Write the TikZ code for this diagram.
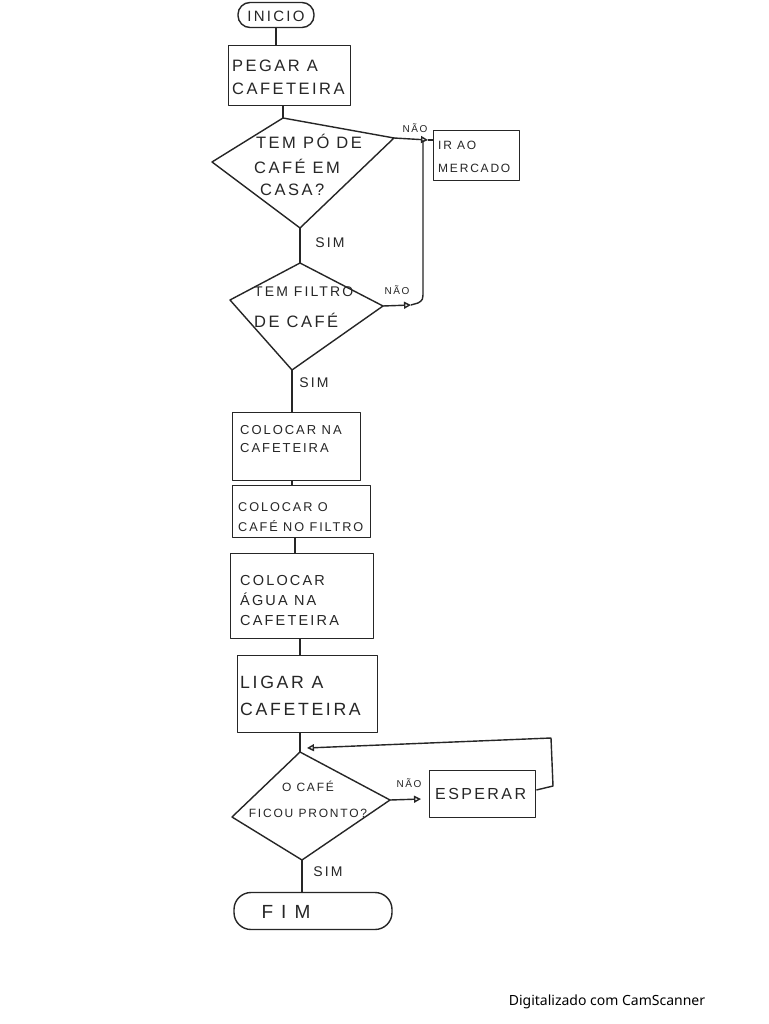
\documentclass[tikz,border=0pt]{standalone}
\usepackage{fontspec}
\setmainfont[LetterSpace=15]{Liberation Sans}
\newfontfamily\camfont{Noto Sans}
\usetikzlibrary{arrows.meta}
\begin{document}
\begin{tikzpicture}[x=1pt,y=-1pt,
  ink/.style={line width=1.4pt,draw=black!85,line join=round},
  procbox/.style={ink,rectangle,anchor=north west,inner sep=0pt},
  term/.style={ink,rectangle,inner sep=0pt},
  txt/.style={font=#1,align=left,anchor=west,inner sep=0pt,text=black!85},
  ctxt/.style={font=#1,align=center,inner sep=0pt,text=black!85},
  lbl/.style={font=\fontsize{#1}{#1}\selectfont,inner sep=0pt,text=black!85},
  conn/.style={ink},
  arr/.style={ink,-{Triangle[open,length=7pt,width=7pt]}}
]
\useasboundingbox (0,0) rectangle (768,1024);
\fill[white] (0,0) rectangle (768,1024);

% INICIO
\node[term,rounded corners=12pt,minimum width=76pt,minimum height=25pt] (ini) at (276,15) {};
\node[ctxt=\fontsize{15}{15}\selectfont] (tini) at (276,16) {INICIO};

% PEGAR A CAFETEIRA
\node[procbox,minimum width=122pt,minimum height=60pt] (pegar) at (228,45) {};
\node[txt=\fontsize{16.5}{23}\selectfont] (tpegar) at (232,77) {PEGAR A\\CAFETEIRA};

% Diamond 1
\coordinate (d1t) at (283,118);
\coordinate (d1r) at (394,138);
\coordinate (d1b) at (300,228);
\coordinate (d1l) at (212,162);
\draw[ink] (d1t) -- (d1r) -- (d1b) -- (d1l) -- cycle;
\node[txt=\fontsize{16.5}{25}\selectfont] (td1a) at (256,141) {TEM PÓ DE};
\node[txt=\fontsize{16.5}{25}\selectfont] (td1b) at (254,166) {CAFÉ EM};
\node[txt=\fontsize{16.5}{25}\selectfont] (td1c) at (260,190) {CASA?};

% IR AO MERCADO
\node[procbox,minimum width=86pt,minimum height=50pt] (merc) at (433,130) {};
\node[txt=\fontsize{12}{23}\selectfont] (tmerc) at (438,157) {IR AO\\MERCADO};

% Diamond 2
\coordinate (d2t) at (300,263);
\coordinate (d2r) at (383,306);
\coordinate (d2b) at (292,370);
\coordinate (d2l) at (230,300);
\draw[ink] (d2t) -- (d2r) -- (d2b) -- (d2l) -- cycle;
\node[txt=\fontsize{14}{14}\selectfont] (td2a) at (254,292) {TEM FILTRO};
\node[txt=\fontsize{16.5}{16.5}\selectfont] (td2b) at (254,320) {DE CAFÉ};

% Boxes
\node[procbox,minimum width=128pt,minimum height=68pt] (b1) at (232,412) {};
\node[txt=\fontsize{13}{18}\selectfont] (tb1) at (240,439) {COLOCAR NA\\CAFETEIRA};

\node[procbox,minimum width=138pt,minimum height=52pt] (b2) at (232,485) {};
\node[txt=\fontsize{12.7}{20}\selectfont] (tb2) at (238,517) {COLOCAR O\\CAFÉ NO FILTRO};

\node[procbox,minimum width=143pt,minimum height=85pt] (b3) at (230,553) {};
\node[txt=\fontsize{14.5}{20}\selectfont] (tb3) at (240,601) {COLOCAR\\ÁGUA NA\\CAFETEIRA};

\node[procbox,minimum width=140pt,minimum height=77pt] (b4) at (237,655) {};
\node[txt=\fontsize{17.7}{27}\selectfont] (tb4) at (240,696) {LIGAR A\\CAFETEIRA};

% Diamond 3
\coordinate (d3t) at (300,752);
\coordinate (d3r) at (390,800);
\coordinate (d3b) at (302,860);
\coordinate (d3l) at (232,817);
\draw[ink] (d3t) -- (d3r) -- (d3b) -- (d3l) -- cycle;
\node[ctxt=\fontsize{12}{26}\selectfont] (td3) at (308,799) {O CAFÉ\\FICOU PRONTO?};

% ESPERAR
\node[procbox,minimum width=106pt,minimum height=47pt] (esp) at (429,770) {};
\node[txt=\fontsize{16}{16}\selectfont] (tesp) at (435,794) {ESPERAR};

% FIM
\node[term,rounded corners=17pt,minimum width=158pt,minimum height=37pt] (fim) at (313,911) {};
\node[ctxt=\fontsize{19}{19}\selectfont] (tfim) at (286,912) {F I M};

% connectors
\draw[conn] (ini.south) -- (ini.south |- pegar.north);
\draw[conn] (pegar.south -| d1t) -- (d1t);
\draw[conn] (d1b) -- (d2t);
\draw[conn] (d2b) -- (d2b |- b1.north);
\draw[conn] (b1.south -| d2b) -- (b2.north -| d2b);
\draw[conn] ([xshift=3pt]b2.south -| d2b) -- ([xshift=3pt]b3.north -| d2b);
\draw[conn] (b3.south -| d3t) -- (b4.north -| d3t);
\draw[conn] (b4.south -| d3t) -- (d3t);
\draw[conn] (d3b) -- (d3b |- fim.north);

% NAO branches
\coordinate (j1) at (428,140);
\draw[arr] (d1r) -- (j1);
\draw[conn] (j1) -- (merc.west |- j1);
\coordinate (j2) at (411,305);
\draw[arr] (d2r) -- (j2);
\draw[conn] (j2) -- (418,303) .. controls (423,300) .. (423,290) -- (423,140);

\coordinate (j3) at (421,799);
\draw[arr] (d3r) -- (j3);
\coordinate (loopin) at (307,748);
\coordinate (lp1) at (553,786);
\coordinate (lp2) at (551,738);
\draw[arr] (esp.east |- 0,790) -- (lp1) -- (lp2) -- (loopin);

% labels
\node[lbl=10] (n1) at (415,128) {NÃO};
\node[lbl=14] (s1) at (330,243) {SIM};
\node[lbl=10] (n2) at (397,290) {NÃO};
\node[lbl=14] (s2) at (314,383) {SIM};
\node[lbl=10] (n3) at (409,783) {NÃO};
\node[lbl=14] (s3) at (328,872) {SIM};

% footer
\node[font=\camfont\fontsize{14}{14}\selectfont,inner sep=0pt] (cam) at (607,1002) {Digitalizado com CamScanner};
\end{tikzpicture}
\end{document}
